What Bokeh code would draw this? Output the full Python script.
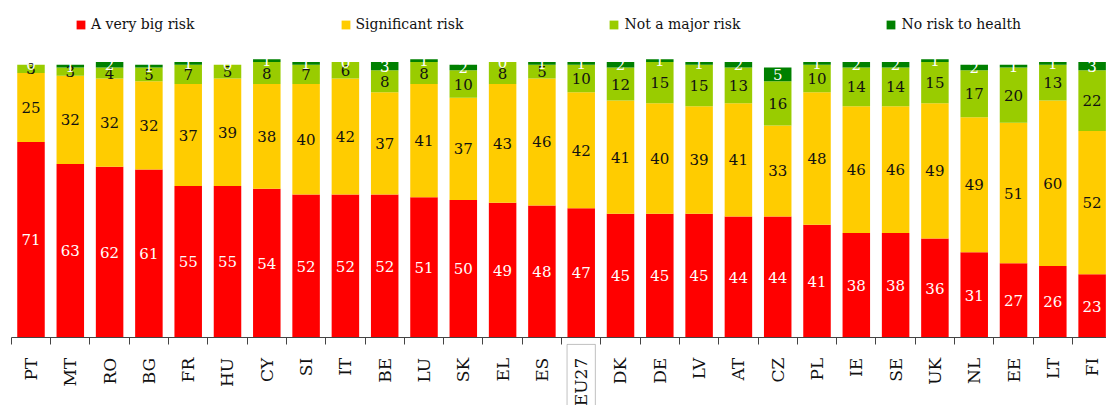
import math
from bokeh.plotting import figure
from bokeh.models import ColumnDataSource, FixedTicker, Legend, LegendItem, BoxAnnotation
from bokeh.core.properties import value
from bokeh.embed import file_html
from bokeh.resources import INLINE

countries = ["PT", "MT", "RO", "BG", "FR", "HU", "CY", "SI", "IT", "BE", "LU", "SK", "EL", "ES",
             "EU27", "DK", "DE", "LV", "AT", "CZ", "PL", "IE", "SE", "UK", "NL", "EE", "LT", "FI"]
very_big = [71, 63, 62, 61, 55, 55, 54, 52, 52, 52, 51, 50, 49, 48,
            47, 45, 45, 45, 44, 44, 41, 38, 38, 36, 31, 27, 26, 23]
significant = [25, 32, 32, 32, 37, 39, 38, 40, 42, 37, 41, 37, 43, 46,
               42, 41, 40, 39, 41, 33, 48, 46, 46, 49, 49, 51, 60, 52]
not_major = [3, 3, 4, 5, 7, 5, 8, 7, 6, 8, 8, 10, 8, 5,
             10, 12, 15, 15, 13, 16, 10, 14, 14, 15, 17, 20, 13, 22]
no_risk = [0, 1, 2, 1, 1, 0, 1, 1, 0, 3, 1, 2, 0, 1,
           1, 2, 1, 1, 2, 5, 1, 2, 2, 1, 2, 1, 1, 3]

series_names = ["A very big risk", "Significant risk", "Not a major risk", "No risk to health"]
series_keys = ["very_big", "significant", "not_major", "no_risk"]
series_values = [very_big, significant, not_major, no_risk]
colors = ["#FF0000", "#FFCC00", "#99CC00", "#008000"]
label_colors = ["#FFFFFF", "#111111", "#111111", "#FFFFFF"]
highlight = "EU27"

FONT = "DejaVu Serif"
xs = list(range(len(countries)))

data = dict(x=xs)
for k, v in zip(series_keys, series_values):
    data[k] = v
source = ColumnDataSource(data)

p = figure(width=1106, height=405, x_range=(-0.776, 27.366), y_range=(-24.55, 122.3),
           output_backend="svg", toolbar_location=None, y_axis_location=None,
           min_border_left=0, min_border_right=0, min_border_top=0, min_border_bottom=0)

renderers = p.vbar_stack(series_keys, x="x", width=0.7, color=colors, source=source,
                         line_color=None)

# value labels
bottom = [0] * len(countries)
for vals, col in zip(series_values, label_colors):
    mids = [b + v / 2 for b, v in zip(bottom, vals)]
    src = ColumnDataSource(dict(x=xs, y=mids, t=[str(v) for v in vals]))
    p.text(x="x", y="y", text="t", source=src, text_align="center", text_baseline="middle",
           text_color=col, text_font=value(FONT), text_font_size="15px")
    bottom = [b + v for b, v in zip(bottom, vals)]

legend = Legend(items=[LegendItem(label=n, renderers=[r]) for n, r in zip(series_names, renderers)],
                orientation="horizontal", location=(75, 373), padding=0, margin=0,
                spacing=145, glyph_width=11, glyph_height=11, label_standoff=5,
                label_height=11, label_text_font=FONT, label_text_font_size="14px",
                label_text_color="#111111", border_line_color=None, background_fill_alpha=0)
p.add_layout(legend)

p.xaxis.fixed_location = 0
p.xaxis.bounds = (-0.5, len(countries) - 0.5)
p.xaxis.ticker = FixedTicker(ticks=xs, minor_ticks=[i - 0.5 for i in range(len(countries) + 1)])
p.xaxis.major_label_overrides = {i: c for i, c in enumerate(countries)}
p.xaxis.major_tick_out = 0
p.xaxis.major_tick_in = 0
p.xaxis.minor_tick_out = 7
p.xaxis.minor_tick_in = 0
p.xaxis.minor_tick_line_color = "#444444"
p.xaxis.axis_line_color = "#444444"
p.xaxis.major_label_orientation = math.pi / 2
p.xaxis.major_label_standoff = 13
p.xaxis.major_label_text_font = FONT
p.xaxis.major_label_text_font_size = "17px"
p.xaxis.major_label_text_color = "#111111"

# box around the EU27 tick label (open at the bottom edge, as in the reference)
eu_idx = countries.index(highlight)
p.add_layout(BoxAnnotation(left=eu_idx - 0.36, right=eu_idx + 0.36, top=-2.4, bottom=-40,
                           fill_alpha=0, line_color="#333333", line_width=1))

p.xgrid.visible = False
p.ygrid.visible = False
p.outline_line_color = None

open("out.html", "w").write(file_html(p, INLINE))
